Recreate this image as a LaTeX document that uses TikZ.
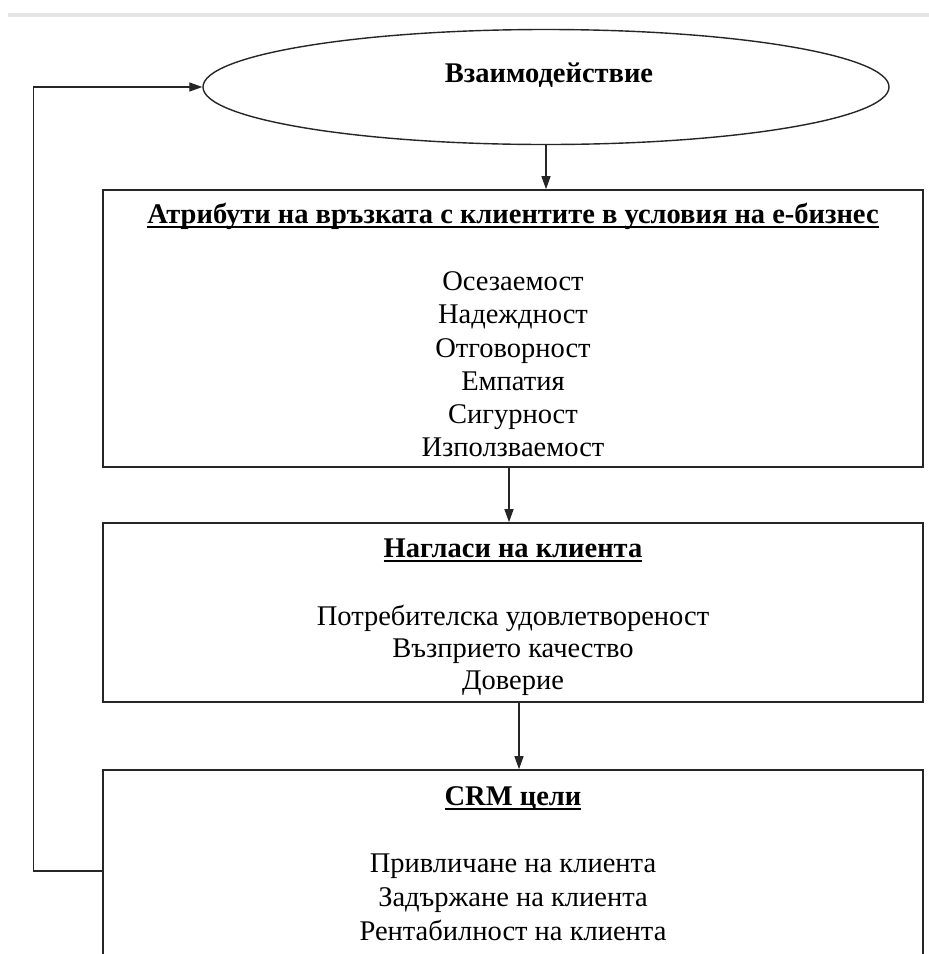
\documentclass[tikz,border=0pt]{standalone}
\usepackage{fontspec}
\setmainfont{Liberation Serif}
\usetikzlibrary{arrows.meta,shapes.geometric}
% underlined heading: a rule under the text, spanning its width
\newcommand{\ulhead}[1]{\setbox0\hbox{#1}\leavevmode\rlap{\vrule height -3pt depth 5pt width \wd0}\box0}
\begin{document}
\begin{tikzpicture}[x=1pt,y=-1pt,
  frame/.style={draw=black!85, line width=1.6pt, rectangle, inner sep=0pt, fill=white},
  oval/.style={draw=black!85, line width=1.4pt, ellipse, inner sep=0pt},
  head/.style={font=\fontsize{28.5}{33}\selectfont\bfseries, inner sep=0pt, anchor=base},
  item/.style={font=\fontsize{28.5}{33}\selectfont, inner sep=0pt, anchor=base},
  link/.style={draw=black!85, line width=1.3pt, -{Triangle[length=13pt,width=9pt]}},
]
\useasboundingbox (0,0) rectangle (929,954);
\fill[white] (0,0) rectangle (929,954);

% thin grey rule across the top
\draw[line width=4pt, black!10] (8,15) -- (929,15);

% shapes
\node[oval, minimum width=686pt, minimum height=115pt] (ell) at (546,87) {};
\node[frame, minimum width=820pt, minimum height=277pt] (box1) at (513,328.5) {};
\node[frame, minimum width=820pt, minimum height=179pt] (box2) at (513,612.5) {};
\node[frame, minimum width=820pt, minimum height=240pt] (box3) at (513,890) {};

% texts
\node[head] (t0) at (549,82) {Взаимодействие};

\node[head] (h1) at (513,223) {\ulhead{Атрибути на връзката с клиентите в условия на е-бизнес}};
\node[item] (a1) at (513,290) {Осезаемост};
\node[item] (a2) at (513,323.5) {Надеждност};
\node[item] (a3) at (513,357) {Отговорност};
\node[item] (a4) at (513,390) {Емпатия};
\node[item] (a5) at (513,423) {Сигурност};
\node[item] (a6) at (513,456) {Използваемост};

\node[head] (h2) at (513,557) {\ulhead{Нагласи на клиента}};
\node[item] (b1) at (513,625) {Потребителска удовлетвореност};
\node[item] (b2) at (513,657) {Възприето качество};
\node[item] (b3) at (513,689) {Доверие};

\node[head] (h3) at (513,805) {\ulhead{CRM цели}};
\node[item] (c1) at (513,872) {Привличане на клиента};
\node[item] (c2) at (513,906) {Задържане на клиента};
\node[item] (c3) at (513,940) {Рентабилност на клиента};

% connectors
\draw[link] (ell.south) -- (ell.south |- box1.north);
\draw[link] ([xshift=-4pt]box1.south) -- ([xshift=-4pt]box2.north);
\draw[link] ([xshift=6pt]box2.south) -- ([xshift=6pt]box3.north);
\draw[link] ([yshift=19pt]box3.west) -- ++(-69,0) |- (ell.west);
\end{tikzpicture}
\end{document}
